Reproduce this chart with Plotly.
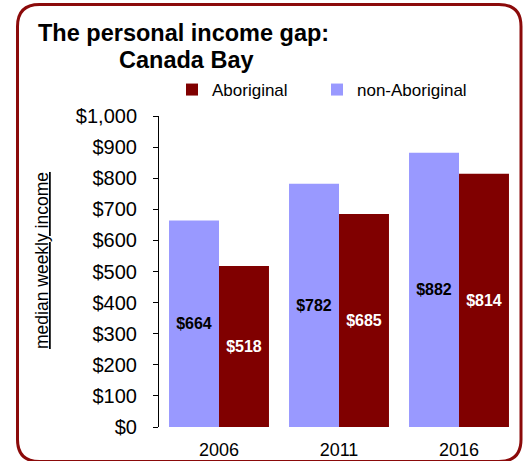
import plotly.graph_objects as go

years = ["2006", "2011", "2016"]
non_aboriginal = [664, 782, 882]
aboriginal = [518, 685, 814]
y_ticks = [0, 100, 200, 300, 400, 500, 600, 700, 800, 900, 1000]
y_tick_labels = [f"${v:,}" for v in y_ticks]

W, H = 528, 461
L, R, T, B = 159, 519, 116, 427


def px(x):
    return (x - L) / (R - L)


def py(y):
    return (B - y) / (B - T)


label_font = "Liberation Sans, Arial"

fig = go.Figure()
fig.add_trace(go.Bar(
    x=years, y=non_aboriginal, name="non-Aboriginal", legend="legend2",
    marker=dict(color="#9999FF", line=dict(width=0)),
    text=[f"${v}" for v in non_aboriginal], texttemplate="%{text}",
    textposition="inside", insidetextanchor="middle",
    textangle=0, constraintext="none",
    textfont=dict(family=label_font, size=16, color="black", weight="bold"),
))
fig.add_trace(go.Bar(
    x=years, y=aboriginal, name="Aboriginal", legend="legend",
    marker=dict(color="#800000", line=dict(width=0)),
    text=[f"${v}" for v in aboriginal], texttemplate="%{text}",
    textposition="inside", insidetextanchor="middle",
    textangle=0, constraintext="none",
    textfont=dict(family=label_font, size=16, color="white", weight="bold"),
))

# rounded frame
fl, fr, ft, fb, r = 17.5, 521, 4.5, 461.5, 22
path = (
    f"M {px(fl+r)},{py(ft)} L {px(fr-r)},{py(ft)} Q {px(fr)},{py(ft)} {px(fr)},{py(ft+r)} "
    f"L {px(fr)},{py(fb-r)} Q {px(fr)},{py(fb)} {px(fr-r)},{py(fb)} "
    f"L {px(fl+r)},{py(fb)} Q {px(fl)},{py(fb)} {px(fl)},{py(fb-r)} "
    f"L {px(fl)},{py(ft+r)} Q {px(fl)},{py(ft)} {px(fl+r)},{py(ft)} Z"
)

legend_font = dict(family="Liberation Sans, Arial", size=17, color="black")

fig.update_layout(
    width=W, height=H,
    margin=dict(l=L, r=W - R, t=T, b=H - B, autoexpand=False),
    paper_bgcolor="white", plot_bgcolor="white",
    barmode="group", bargap=0.167, bargroupgap=0,
    font=dict(family="Liberation Sans, Arial", color="black"),
    showlegend=True,
    legend=dict(
        orientation="h", x=px(172), xanchor="left", y=py(72), yanchor="top",
        font=legend_font, bgcolor="rgba(0,0,0,0)",
    ),
    legend2=dict(
        orientation="h", x=px(317), xanchor="left", y=py(72), yanchor="top",
        font=legend_font, bgcolor="rgba(0,0,0,0)",
    ),
    xaxis=dict(
        type="category", showline=False, ticks="", showgrid=False,
        ticklabelstandoff=10, automargin=False,
        tickfont=dict(family="Liberation Sans, Arial", size=18, color="black"),
    ),
    yaxis=dict(
        range=[0, 1000], tickvals=y_ticks, ticktext=y_tick_labels,
        showline=True, linecolor="black", linewidth=1,
        ticks="outside", ticklen=5, tickcolor="black",
        ticklabelstandoff=12, automargin=False,
        showgrid=False, zeroline=False,
        tickfont=dict(family="Liberation Sans, Arial", size=20, color="black"),
    ),
    shapes=[dict(type="path", xref="paper", yref="paper", path=path,
                 line=dict(color="#8B0A0A", width=3), fillcolor="rgba(0,0,0,0)")],
    annotations=[
        dict(text="<b>The personal income gap:</b>", xref="paper", yref="paper",
             x=px(36), y=py(33), xanchor="left", yanchor="middle", showarrow=False,
             font=dict(family="Liberation Sans, Arial", size=23.5, color="black")),
        dict(text="<b>Canada Bay</b>", xref="paper", yref="paper",
             x=px(117), y=py(60), xanchor="left", yanchor="middle", showarrow=False,
             font=dict(family="Liberation Sans, Arial", size=23.5, color="black")),
        dict(text="<u>median weekly income</u>", xref="paper", yref="paper",
             x=px(42), y=py(261), xanchor="center", yanchor="middle", showarrow=False,
             textangle=-90,
             font=dict(family="Liberation Sans, Arial", size=17.5, color="black")),
    ],
)

fig.write_html("out.html")
